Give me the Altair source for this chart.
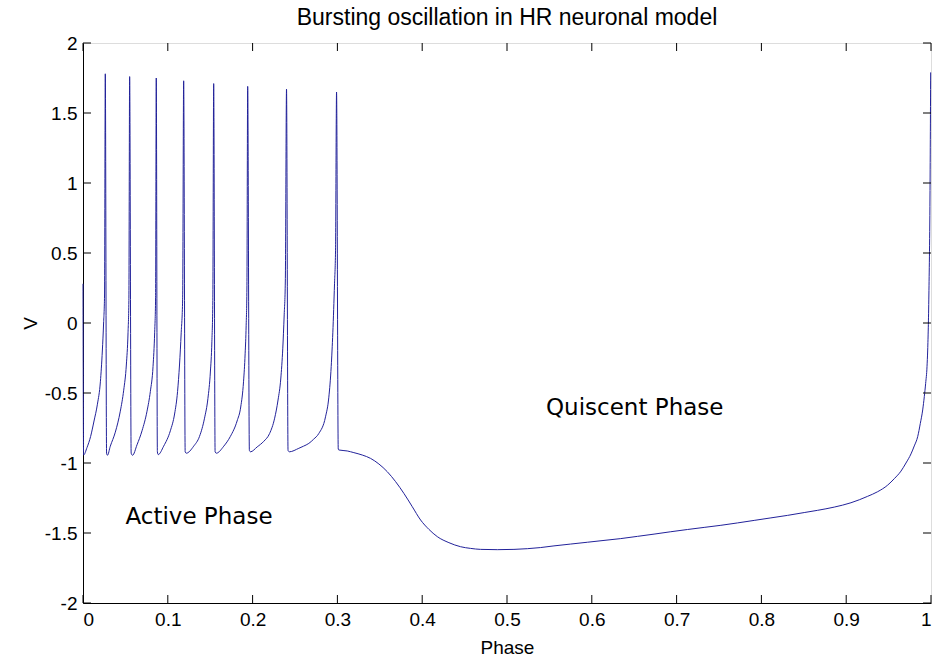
import altair as alt
import pandas as pd

# ---- data ----
# active (bursting) phase: phase, V pairs in drawing order
burst_phase = [0.0, 0.0007, 0.0047, 0.0090, 0.0130, 0.0170, 0.0205, 0.0228, 0.0243, 0.0254, 0.0263, 0.0278, 0.0288,
               0.0322, 0.0381, 0.0440, 0.0480, 0.0511, 0.0531, 0.0541, 0.0550, 0.0568, 0.0584,
               0.0637, 0.0696, 0.0755, 0.0794, 0.0826, 0.0845, 0.0856, 0.0864, 0.0877, 0.0887,
               0.0951, 0.1030, 0.1080, 0.1115, 0.1138, 0.1158, 0.1175, 0.1187, 0.1205, 0.1218,
               0.1305, 0.1374, 0.1433, 0.1473, 0.1502, 0.1520, 0.1531, 0.1541, 0.1558, 0.1572,
               0.1660, 0.1738, 0.1817, 0.1860, 0.1893, 0.1912, 0.1924, 0.1933, 0.1942, 0.1962, 0.1975,
               0.2054, 0.2132, 0.2200, 0.2260, 0.2300, 0.2332, 0.2356, 0.2372, 0.2386, 0.2400, 0.2418, 0.2433,
               0.2545, 0.2600, 0.2663, 0.2720, 0.2780, 0.2860, 0.2899, 0.2927, 0.2946, 0.2966, 0.2978, 0.2990, 0.3010]
burst_v = [0.28, -0.943, -0.89, -0.81, -0.70, -0.58, -0.42, -0.20, 0.00, 0.20, 1.78, -0.93, -0.945,
           -0.88, -0.78, -0.63, -0.48, -0.30, -0.07, 0.16, 1.76, -0.93, -0.945,
           -0.87, -0.77, -0.63, -0.49, -0.31, -0.07, 0.18, 1.75, -0.92, -0.94,
           -0.88, -0.77, -0.65, -0.49, -0.30, -0.07, 0.17, 1.73, -0.92, -0.93,
           -0.88, -0.81, -0.68, -0.54, -0.35, -0.13, 0.16, 1.71, -0.92, -0.93,
           -0.88, -0.81, -0.70, -0.60, -0.42, -0.22, -0.02, 0.25, 1.69, -0.91, -0.92,
           -0.885, -0.845, -0.79, -0.68, -0.55, -0.40, -0.18, 0.05, 0.30, 1.67, -0.91, -0.92,
           -0.895, -0.88, -0.86, -0.83, -0.79, -0.67, -0.53, -0.31, -0.07, 0.28, 0.52, 1.65, -0.90]

# quiescent phase
quiet_phase = [0.3017, 0.3116, 0.3194, 0.3293, 0.3391, 0.3489, 0.3588, 0.3686, 0.3784, 0.3883,
               0.3981, 0.4079, 0.4178, 0.4315, 0.4453, 0.4571, 0.4689, 0.4886, 0.5082, 0.5240,
               0.5397, 0.5554, 0.5751, 0.5948, 0.6144, 0.6341, 0.6538, 0.6734, 0.6931, 0.7128,
               0.7325, 0.7522, 0.7719, 0.7915, 0.8112, 0.8309, 0.8505, 0.8663, 0.8859, 0.9056,
               0.9253, 0.9371, 0.9489, 0.9567, 0.9646, 0.9705, 0.9764, 0.9803, 0.9843, 0.9874,
               0.9902, 0.9921, 0.9937, 0.9953, 0.9961, 0.9975, 0.9988, 0.9996]
quiet_v = [-0.907, -0.914, -0.926, -0.943, -0.967, -1.007, -1.062, -1.133, -1.217, -1.312,
           -1.407, -1.474, -1.526, -1.569, -1.598, -1.610, -1.617, -1.619, -1.617, -1.612,
           -1.604, -1.592, -1.579, -1.566, -1.553, -1.540, -1.524, -1.508, -1.491, -1.475,
           -1.460, -1.445, -1.428, -1.410, -1.392, -1.374, -1.354, -1.338, -1.315, -1.284,
           -1.238, -1.205, -1.158, -1.112, -1.058, -1.000, -0.935, -0.878, -0.812, -0.717,
           -0.621, -0.526, -0.431, -0.312, -0.193, 0.20, 0.90, 1.79]

x_ticks = [0, 0.1, 0.2, 0.3, 0.4, 0.5, 0.6, 0.7, 0.8, 0.9, 1]
y_ticks = [-2, -1.5, -1, -0.5, 0, 0.5, 1, 1.5, 2]

ann_text = ["Active Phase", "Quiscent Phase"]
ann_phase = [0.05, 0.546]
ann_v = [-1.386, -0.607]

title_text = ["Bursting oscillation in HR neuronal model"]

# ---- build tables ----
phase = burst_phase + quiet_phase
volt = burst_v + quiet_v
df = pd.DataFrame({"phase": phase, "V": volt, "idx": list(range(len(phase)))})
xt = pd.DataFrame({"t": x_ticks})
yt = pd.DataFrame({"t": y_ticks})
ann = pd.DataFrame({"label": ann_text, "phase": ann_phase, "V": ann_v})
ttl = pd.DataFrame({"label": title_text})

W, H = 848, 560
TICK = 8
LINE_COLOR = "#22229a"
AX_FONT = "Liberation Sans"
FS = 19

xscale = alt.Scale(domain=[0, 1], nice=False, zero=False)
yscale = alt.Scale(domain=[-2, 2], nice=False, zero=False)

xaxis = alt.Axis(values=x_ticks, labelExpr="toString(datum.value)", ticks=False, grid=False,
                 domainColor="black", labelColor="black", labelFont=AX_FONT, labelFontSize=FS,
                 labelPadding=7, title="Phase", titleFont=AX_FONT, titleFontSize=FS,
                 titleFontWeight="normal", titleColor="black", titleX=W / 2, titleY=44,
                 titleBaseline="middle", titleAlign="center")
yaxis = alt.Axis(values=y_ticks, labelExpr="toString(datum.value)", ticks=False, grid=False,
                 domainColor="black", labelColor="black", labelFont=AX_FONT, labelFontSize=FS,
                 labelPadding=6, title="V", titleFont=AX_FONT, titleFontSize=FS,
                 titleFontWeight="normal", titleColor="black", titleX=-53, titleY=H / 2,
                 titleBaseline="middle", titleAlign="center", titleAngle=270)

line = alt.Chart(df).mark_line(color=LINE_COLOR, strokeWidth=1, interpolate="monotone").encode(
    x=alt.X("phase:Q", scale=xscale, axis=xaxis),
    y=alt.Y("V:Q", scale=yscale, axis=yaxis),
    order="idx:Q",
)

tick_style = dict(color="black", strokeWidth=1)
xt_bottom = alt.Chart(xt).mark_rule(**tick_style).encode(
    x=alt.X("t:Q", scale=xscale), y=alt.value(H - TICK), y2=alt.value(H))
xt_top = alt.Chart(xt).mark_rule(**tick_style).encode(
    x=alt.X("t:Q", scale=xscale), y=alt.value(0), y2=alt.value(TICK))
yt_left = alt.Chart(yt).mark_rule(**tick_style).encode(
    y=alt.Y("t:Q", scale=yscale), x=alt.value(0), x2=alt.value(TICK))
yt_right = alt.Chart(yt).mark_rule(**tick_style).encode(
    y=alt.Y("t:Q", scale=yscale), x=alt.value(W - TICK), x2=alt.value(W))

texts = alt.Chart(ann).mark_text(align="left", baseline="middle", font="DejaVu Sans",
                                 fontSize=23, color="black").encode(
    x=alt.X("phase:Q", scale=xscale), y=alt.Y("V:Q", scale=yscale), text="label:N")

title = alt.Chart(ttl).mark_text(align="center", baseline="alphabetic", font=AX_FONT,
                                 fontSize=23, color="black").encode(
    x=alt.value(W / 2), y=alt.value(-18), text="label:N")

chart = alt.layer(line, xt_bottom, xt_top, yt_left, yt_right, texts, title).properties(
    width=W, height=H,
    autosize=alt.AutoSizeParams(type="none"),
    padding={"left": 83, "top": 43, "right": 3, "bottom": 58},
).configure_view(stroke="black", strokeWidth=1).configure(background="white")

chart.save("out.html", embed_options={"renderer": "svg", "actions": False})
